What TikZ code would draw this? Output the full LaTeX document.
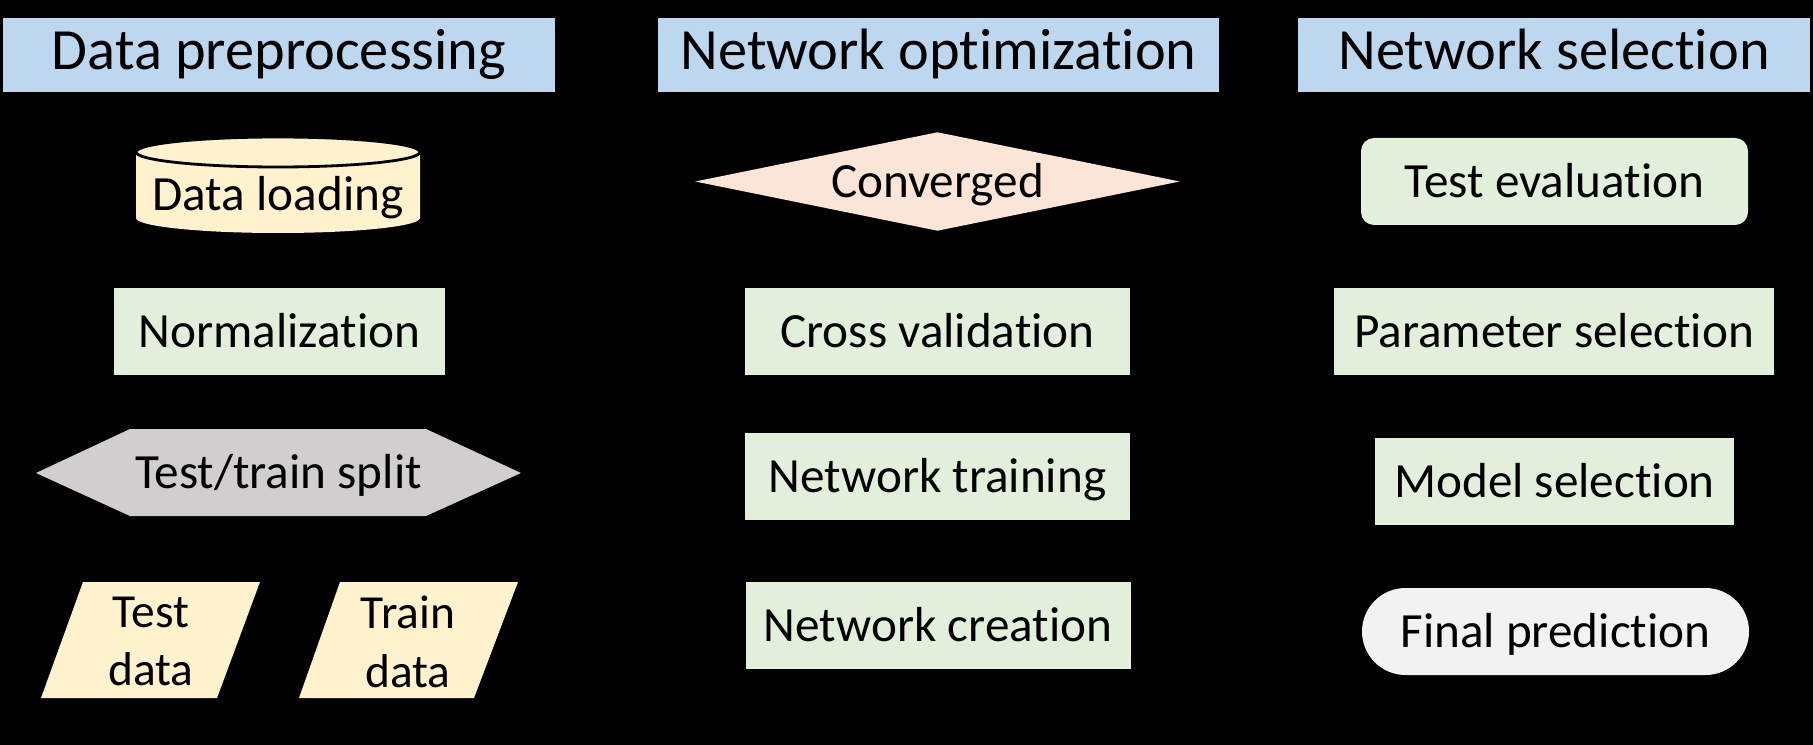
\documentclass[tikz,border=0pt]{standalone}
\usepackage{fontspec}
\setmainfont{Carlito}[Ligatures=NoCommon]
\usepackage{tikz}
\usetikzlibrary{positioning,shapes.geometric}
\definecolor{headblue}{HTML}{BDD7EE}
\definecolor{loadcream}{HTML}{FFF2CC}
\definecolor{stepgreen}{HTML}{E2EFDA}
\definecolor{decisionpeach}{HTML}{FBE5D6}
\definecolor{splitgray}{HTML}{D0CECE}
\definecolor{endgray}{HTML}{F2F2F2}
\tikzset{
  headbox/.style={fill=headblue,inner sep=0pt,minimum height=0.74cm,
    font=\fontsize{16.6}{19}\selectfont,text height=1.04em,text depth=0.2em},
  stepbox/.style={fill=stepgreen,inner sep=0pt,minimum height=0.87cm,
    font=\fontsize{14}{17}\selectfont,text height=1.05em,text depth=0.15em},
  evalbox/.style={stepbox,rounded corners=0.13cm},
  finalbox/.style={stepbox,fill=endgray,rounded corners=0.435cm},
  decisionbox/.style={diamond,aspect=4.9,fill=decisionpeach,inner sep=0pt,
    minimum width=4.85cm,minimum height=0.99cm,
    font=\fontsize{14}{17}\selectfont,text height=1.05em,text depth=0.15em},
  figurelabel/.style={font=\fontsize{14}{17}\selectfont,inner sep=0pt,
    text height=1.05em,text depth=0.15em},
  datalabel/.style={font=\fontsize{13.5}{16.7}\selectfont,align=center,inner sep=0pt}
}
\begin{document}
\begin{tikzpicture}[x=1cm,y=1cm]
  \fill[black] (0,0) rectangle (18.13,-7.45);
  \node[headbox,minimum width=5.52cm] (prep) at (2.79,-0.55) {Data preprocessing};
  \node[headbox,minimum width=5.61cm] (optim) at (9.385,-0.55) {Network optimization};
  \node[headbox,minimum width=5.12cm] (select) at (15.54,-0.55) {Network selection};

  \fill[loadcream] (1.36,-1.52) -- (1.36,-2.18)
    arc[start angle=180,end angle=360,x radius=1.42cm,y radius=0.15cm]
    -- (4.20,-1.52) -- cycle;
  \filldraw[fill=loadcream,draw=black,thick] (2.78,-1.52) ellipse (1.42 and 0.15);
  \node[figurelabel] (load) at (2.78,-1.945) {Data loading};
  \node[stepbox,minimum width=3.31cm] (norm) at (2.795,-3.315) {Normalization};
  \fill[splitgray] (0.36,-4.73) -- (1.30,-4.29) -- (4.26,-4.29) -- (5.21,-4.73)
    -- (4.26,-5.16) -- (1.30,-5.16) -- cycle;
  \node[figurelabel] (split) at (2.785,-4.73) {Test/train split};
  \fill[loadcream] (0.41,-6.98) -- (0.83,-5.82) -- (2.60,-5.82) -- (2.17,-6.98) -- cycle;
  \node[datalabel] (testdata) at (1.51,-6.415) {Test\\data};
  \fill[loadcream] (2.99,-6.98) -- (3.40,-5.82) -- (5.18,-5.82) -- (4.74,-6.98) -- cycle;
  \node[datalabel] (traindata) at (4.08,-6.415) {Train\\data};

  \node[decisionbox] (conv) at (9.375,-1.815) {Converged};
  \node[stepbox,minimum width=3.85cm] (cross) at (9.375,-3.315) {Cross validation};
  \node[stepbox,minimum width=3.85cm] (training) at (9.375,-4.765) {Network training};
  \node[stepbox,minimum width=3.85cm] (creation) at (9.38,-6.255) {Network creation};

  \node[evalbox,minimum width=3.87cm] (evaluate) at (15.545,-1.815) {Test evaluation};
  \node[stepbox,minimum width=4.40cm] (param) at (15.54,-3.315) {Parameter selection};
  \node[stepbox,minimum width=3.59cm] (model) at (15.545,-4.815) {Model selection};
  \node[finalbox,minimum width=3.87cm] (final) at (15.555,-6.315) {Final prediction};
\end{tikzpicture}
\end{document}
